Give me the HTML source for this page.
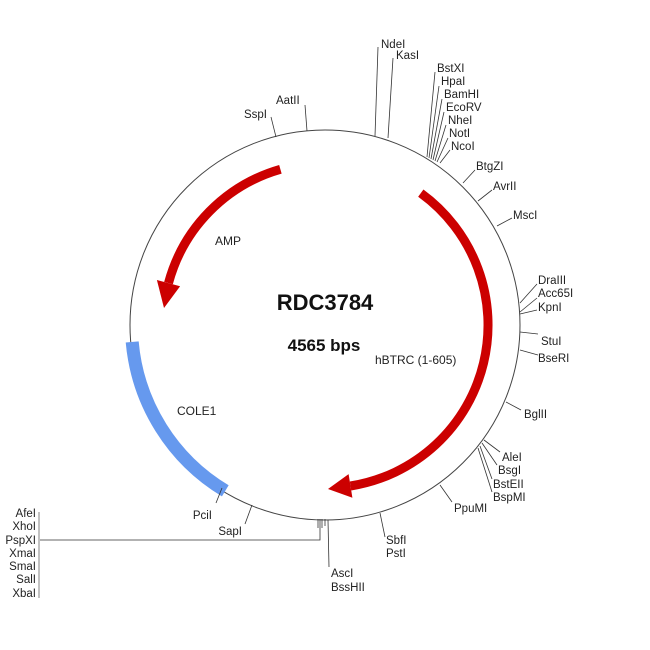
<!DOCTYPE html>
<html><head><meta charset="utf-8"><style>
html,body{margin:0;padding:0;background:#fff;}
svg{display:block;}
text{font-family:"Liberation Sans",Arial,sans-serif;font-size:11.5px;fill:#222;}
</style></head><body>
<svg width="650" height="650" viewBox="0 0 650 650">
<circle cx="325" cy="325" r="195" fill="none" stroke="#444" stroke-width="1"/>
<path d="M225.3 490.8 A193.5 193.5 0 0 1 132.2 341.9" fill="none" stroke="#6699ee" stroke-width="13"/>
<path d="M420.8 193.1 A163 163 0 0 1 350.5 486" fill="none" stroke="#cc0000" stroke-width="9"/>
<polygon points="348.6,474.1 352.4,497.8 328,489" fill="#cc0000"/>
<path d="M280.4 169.3 A162 162 0 0 0 168.5 283.1" fill="none" stroke="#cc0000" stroke-width="9"/>
<polygon points="180.1,286.2 156.9,280 164,308" fill="#cc0000"/>

<g stroke="#333" stroke-width="0.8" fill="none">
<line x1="375" y1="136" x2="378" y2="47"/>
<line x1="388" y1="138" x2="393" y2="58"/>
<line x1="427" y1="157" x2="435" y2="72"/>
<line x1="429" y1="158" x2="439" y2="86"/>
<line x1="431" y1="159" x2="442" y2="99"/>
<line x1="433" y1="160" x2="444" y2="112"/>
<line x1="435" y1="161" x2="446" y2="125"/>
<line x1="437" y1="162" x2="448" y2="138"/>
<line x1="440" y1="163" x2="450" y2="150"/>
<line x1="463" y1="183" x2="475" y2="170"/>
<line x1="478" y1="201" x2="492" y2="190"/>
<line x1="497" y1="226" x2="512" y2="218"/>
<line x1="520" y1="303" x2="537" y2="284"/>
<line x1="520" y1="312" x2="537" y2="298"/>
<line x1="520" y1="314" x2="537" y2="310"/>
<line x1="520" y1="332" x2="538" y2="334"/>
<line x1="520" y1="350" x2="538" y2="355"/>
<line x1="506" y1="402" x2="521" y2="410"/>
<line x1="484" y1="440" x2="500" y2="452"/>
<line x1="482" y1="443" x2="497" y2="465"/>
<line x1="480" y1="446" x2="492" y2="479"/>
<line x1="478" y1="448" x2="492" y2="492"/>
<line x1="440" y1="485" x2="452" y2="502"/>
<line x1="380" y1="513" x2="385" y2="537"/>
<line x1="328" y1="520" x2="329" y2="567"/>
<line x1="318" y1="519" x2="318" y2="528"/>
<line x1="322" y1="519" x2="322" y2="528"/>
<line x1="325" y1="519" x2="325" y2="526"/>
<polyline points="320,519 320,540 40,540"/>
<line x1="39" y1="512" x2="39" y2="598" stroke="#999" stroke-width="1.2"/>
<line x1="252" y1="505" x2="245" y2="524"/>
<line x1="222" y1="488" x2="216" y2="503"/>
<line x1="276" y1="137" x2="271" y2="117"/>
<line x1="307" y1="131" x2="305" y2="105"/>
</g>

<g>
<text x="381" y="48">NdeI</text>
<text x="396" y="59">KasI</text>
<text x="437" y="72">BstXI</text>
<text x="441" y="85">HpaI</text>
<text x="444" y="98">BamHI</text>
<text x="446" y="111">EcoRV</text>
<text x="448" y="124">NheI</text>
<text x="449" y="137">NotI</text>
<text x="451" y="150">NcoI</text>
<text x="476" y="170">BtgZI</text>
<text x="493" y="190">AvrII</text>
<text x="513" y="219">MscI</text>
<text x="538" y="284">DraIII</text>
<text x="538" y="297">Acc65I</text>
<text x="538" y="311">KpnI</text>
<text x="541" y="345">StuI</text>
<text x="538" y="362">BseRI</text>
<text x="524" y="418">BglII</text>
<text x="502" y="461">AleI</text>
<text x="498" y="474">BsgI</text>
<text x="493" y="488">BstEII</text>
<text x="493" y="501">BspMI</text>
<text x="454" y="512">PpuMI</text>
<text x="386" y="544">SbfI</text>
<text x="386" y="557">PstI</text>
<text x="331" y="577">AscI</text>
<text x="331" y="591">BssHII</text>
<text x="242" y="535" text-anchor="end">SapI</text>
<text x="212" y="519" text-anchor="end">PciI</text>
<text x="267" y="118" text-anchor="end">SspI</text>
<text x="276" y="104">AatII</text>
<g text-anchor="end">
<text x="36" y="517">AfeI</text>
<text x="36" y="530">XhoI</text>
<text x="36" y="544">PspXI</text>
<text x="36" y="557">XmaI</text>
<text x="36" y="570">SmaI</text>
<text x="36" y="583">SalI</text>
<text x="36" y="597">XbaI</text>
</g>
<text x="325" y="310" text-anchor="middle" style="font-size:22px;font-weight:bold;fill:#111">RDC3784</text>
<text x="324" y="351" text-anchor="middle" style="font-size:17px;font-weight:bold;fill:#111">4565 bps</text>
<text x="375" y="364" style="font-size:12px">hBTRC (1-605)</text>
<text x="215" y="245" style="font-size:12px">AMP</text>
<text x="177" y="415" style="font-size:12px">COLE1</text>
</g>
</svg>
</body></html>
